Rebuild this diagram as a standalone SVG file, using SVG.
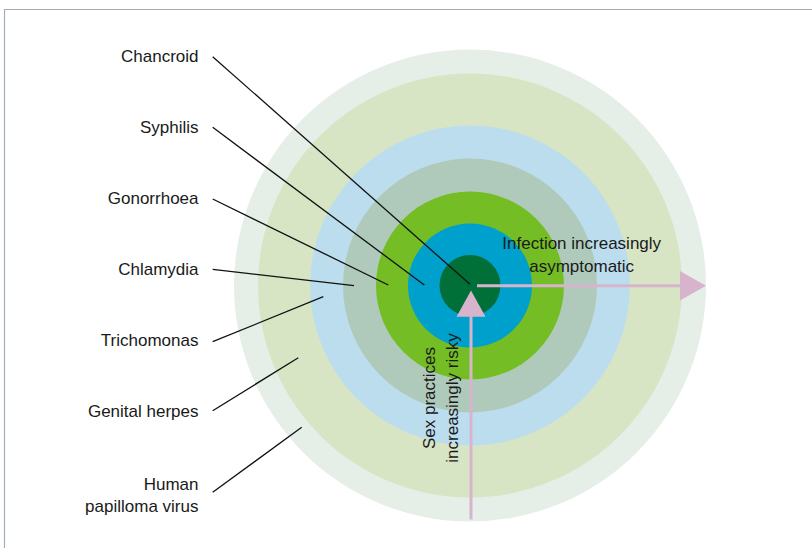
<svg xmlns="http://www.w3.org/2000/svg" width="812" height="548" viewBox="0 0 812 548">
<style>
.lbl{font-family:"Liberation Sans",Arial,sans-serif;font-size:17px;fill:#1a1a1a;text-anchor:end}
.mid{font-family:"Liberation Sans",Arial,sans-serif;font-size:17px;fill:#1a1a1a;text-anchor:middle}
.lead{stroke:#111;stroke-width:1.3;fill:none}
.axis{stroke:#d8b4cc;stroke-width:3;fill:none}
.head{fill:#d8b4cc}
</style>
<rect width="812" height="548" fill="#fff"/>
<path d="M4.5 548 V9.5 H812" fill="none" stroke="#a3adb8" stroke-width="1.2"/>
<g id="rings">
<circle id="ring-hpv" cx="470" cy="285.5" r="236" fill="#e6eee8"/>
<circle id="ring-herpes" cx="470" cy="285.5" r="212" fill="#d8e5c5"/>
<circle id="ring-trichomonas" cx="470" cy="285.5" r="160" fill="#bcdded"/>
<circle id="ring-chlamydia" cx="470" cy="285.5" r="127" fill="#afcabb"/>
<circle id="ring-gonorrhoea" cx="470" cy="285.5" r="94" fill="#74bd24"/>
<circle id="ring-syphilis" cx="470" cy="285.5" r="62" fill="#00a0cc"/>
<circle id="ring-chancroid" cx="470" cy="285.5" r="30.5" fill="#006f38"/>
</g>
<g id="label-chancroid"><text class="lbl" x="198.5" y="62">Chancroid</text></g>
<g id="label-syphilis"><text class="lbl" x="198.5" y="133">Syphilis</text></g>
<g id="label-gonorrhoea"><text class="lbl" x="198.5" y="204">Gonorrhoea</text></g>
<g id="label-chlamydia"><text class="lbl" x="198.5" y="275">Chlamydia</text></g>
<g id="label-trichomonas"><text class="lbl" x="198.5" y="346">Trichomonas</text></g>
<g id="label-herpes"><text class="lbl" x="198.5" y="416.5">Genital herpes</text></g>
<g id="label-hpv"><text class="lbl" x="198.5" y="489.5">Human</text><text class="lbl" x="198.5" y="511.5">papilloma virus</text></g>
<g id="connectors">
<line class="lead" x1="212.7" y1="56.7" x2="470" y2="284.3"/>
<line class="lead" x1="212.7" y1="127.3" x2="424.3" y2="285"/>
<line class="lead" x1="212.7" y1="199" x2="388.3" y2="285"/>
<line class="lead" x1="212.7" y1="269.3" x2="354" y2="285.7"/>
<line class="lead" x1="212.7" y1="341.7" x2="323.3" y2="296.7"/>
<line class="lead" x1="212.7" y1="410.7" x2="298.3" y2="357.7"/>
<line class="lead" x1="212.7" y1="492.3" x2="301.7" y2="427.3"/>
</g>
<g id="axis-asymptomatic">
<line class="axis" x1="477" y1="285.7" x2="682" y2="285.7"/>
<polygon class="head" points="680,271 706,285.7 680,300.5"/>
<text class="mid" x="581.7" y="249.3">Infection increasingly</text>
<text class="mid" x="581.7" y="271.7">asymptomatic</text>
</g>
<g id="axis-risky">
<line class="axis" x1="471" y1="519.5" x2="471" y2="314"/>
<polygon class="head" points="456.5,316.7 471,290.5 485.5,316.7"/>
<text class="mid" transform="translate(435,398) rotate(-90)">Sex practices</text>
<text class="mid" transform="translate(457.5,398) rotate(-90)">increasingly risky</text>
</g>
</svg>
